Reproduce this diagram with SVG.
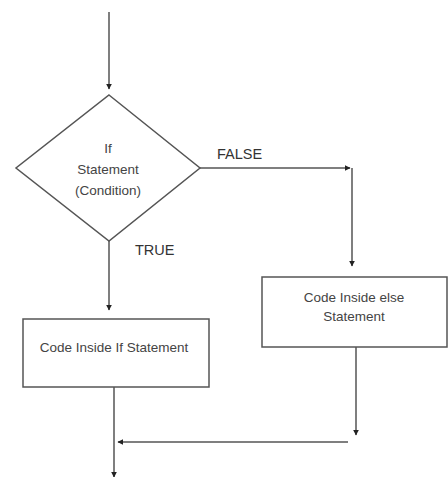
<svg xmlns="http://www.w3.org/2000/svg" width="448" height="477" viewBox="0 0 448 477">
  <style>
    .shape { fill: #ffffff; stroke: #555555; stroke-width: 1.5; }
    .wire { fill: none; stroke: #555555; stroke-width: 1.5; }
    .txt { font-family: "Liberation Sans", Arial, sans-serif; font-size: 13.5px; fill: #444444; text-anchor: middle; dominant-baseline: central; }
    .lbl { font-family: "Liberation Sans", Arial, sans-serif; font-size: 14.5px; fill: #333333; dominant-baseline: central; }
  </style>
  <defs>
    <marker id="arrow" viewBox="0 0 10 10" refX="9" refY="5" markerWidth="6" markerHeight="6" orient="auto" markerUnits="userSpaceOnUse">
      <path d="M0,0 L10,5 L0,10 z" fill="#222222"/>
    </marker>
  </defs>

  <rect width="448" height="477" fill="#ffffff"/>

  <!-- connectors -->
  <g id="connectors">
    <line class="wire" x1="109" y1="12" x2="109" y2="89" marker-end="url(#arrow)"/>
    <line class="wire" x1="200" y1="168" x2="350" y2="168" marker-end="url(#arrow)"/>
    <polyline class="wire" points="352,168 352,266" marker-end="url(#arrow)"/>
    <line class="wire" x1="109" y1="241" x2="109" y2="310" marker-end="url(#arrow)"/>
    <line class="wire" x1="356" y1="347" x2="356" y2="435" marker-end="url(#arrow)"/>
    <line class="wire" x1="348" y1="442" x2="118" y2="442" marker-end="url(#arrow)"/>
    <line class="wire" x1="114" y1="387" x2="114" y2="477" marker-end="url(#arrow)"/>
    <text class="lbl" x="217" y="154">FALSE</text>
    <text class="lbl" x="135" y="250">TRUE</text>
  </g>

  <!-- decision -->
  <g id="decision">
    <polygon class="shape" points="109,95 200,168 109,241 16,168"/>
    <text class="txt" x="108" y="148">If</text>
    <text class="txt" x="108" y="169">Statement</text>
    <text class="txt" x="108" y="190">(Condition)</text>
  </g>

  <!-- if branch -->
  <g id="if-block">
    <rect class="shape" x="23" y="319" width="186" height="68"/>
    <text class="txt" x="114" y="347">Code Inside If Statement</text>
  </g>

  <!-- else branch -->
  <g id="else-block">
    <rect class="shape" x="262" y="277" width="185" height="70"/>
    <text class="txt" x="354" y="297">Code Inside else</text>
    <text class="txt" x="354" y="316">Statement</text>
  </g>
</svg>
